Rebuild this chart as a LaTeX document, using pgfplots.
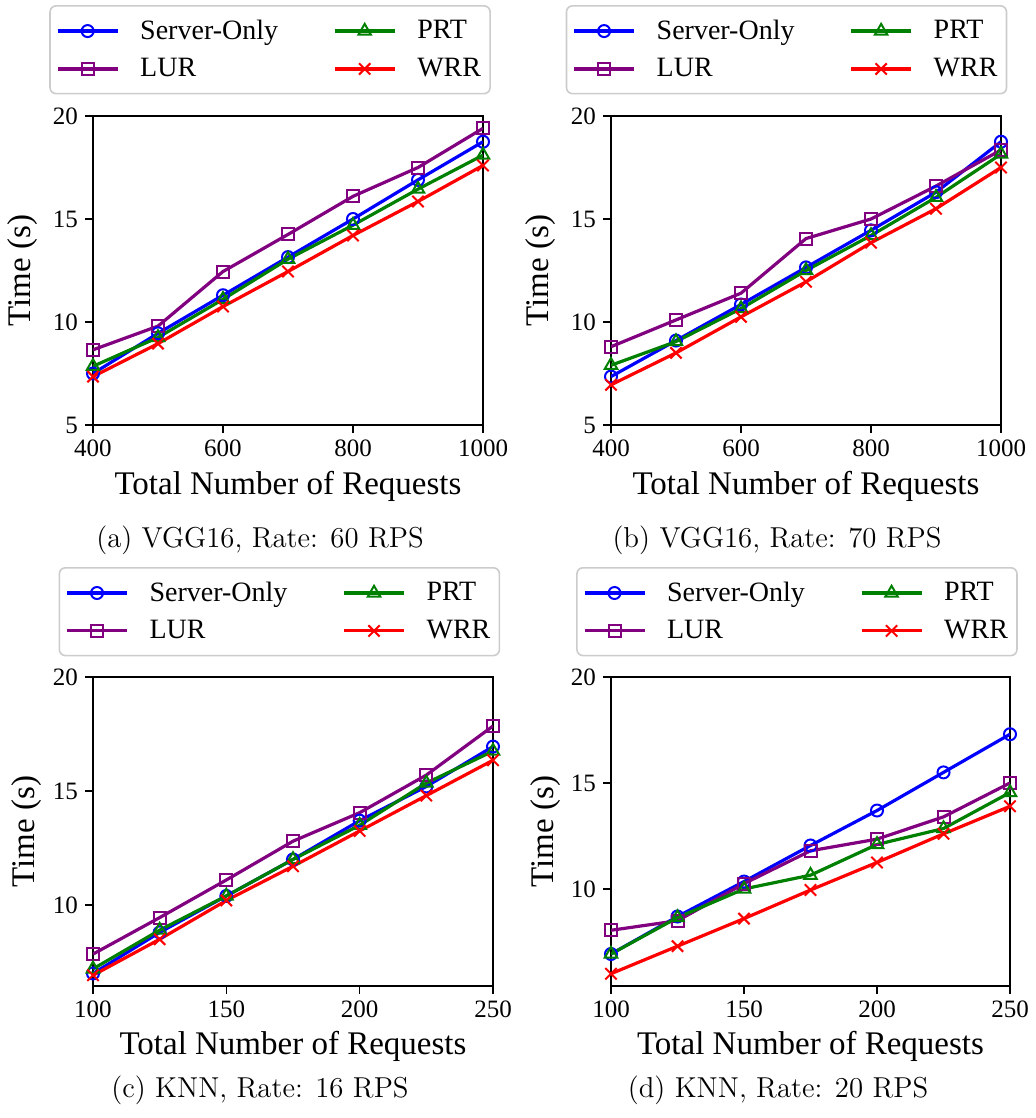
\documentclass[border=0pt]{standalone}
\usepackage{fontspec}
\setmainfont{Liberation Serif}
\usepackage{pgfplots}
\usepackage{pgfplotstable}
\pgfplotsset{compat=1.18}

\definecolor{mplpurple}{RGB}{128,0,128}
\definecolor{mplgreen}{RGB}{0,128,0}
\definecolor{legedge}{gray}{0.8}

\pgfplotstableread{
x    so    lur   prt   wrr
400  7.50  8.65  7.85  7.35
500  9.45  9.80  9.25  8.95
600  11.30 12.45 11.10 10.75
700  13.15 14.25 13.05 12.45
800  15.00 16.10 14.70 14.20
900  16.90 17.50 16.45 15.85
1000 18.75 19.40 18.10 17.60
}\tabA
\pgfplotstableread{
x    so    lur   prt   wrr
400  7.35  8.80  7.90  6.95
500  9.10  10.10 9.05  8.50
600  10.85 11.40 10.65 10.25
700  12.65 14.05 12.50 11.95
800  14.45 15.00 14.20 13.85
900  16.30 16.60 16.05 15.50
1000 18.75 18.35 18.15 17.50
}\tabB
\pgfplotstableread{
x    so    lur   prt   wrr
100  7.00  7.85  7.20  6.92
125  8.80  9.45  8.90  8.50
150  10.40 11.10 10.40 10.20
175  12.00 12.80 12.00 11.70
200  13.70 14.05 13.50 13.25
225  15.20 15.70 15.35 14.80
250  16.95 17.85 16.75 16.35
}\tabC
\pgfplotstableread{
x    so    lur   prt   wrr
100  6.93  8.05  6.93  6.00
125  8.70  8.50  8.65  7.30
150  10.35 10.25 10.00 8.60
175  12.05 11.80 10.65 9.95
200  13.70 12.35 12.10 11.25
225  15.50 13.40 12.85 12.60
250  17.30 15.00 14.55 13.90
}\tabD

\pgfplotsset{
  panel/.style={
    scale only axis, height=154.5pt,
    axis line style={line width=0.8pt},
    xtick pos=bottom, ytick pos=left, tick align=outside,
    major tick length=4pt, tick style={line width=0.8pt, black},
    /pgf/number format/assume math mode=true,
    /pgf/number format/1000 sep={},
    tick label style={font=\fontsize{12.5}{14}\selectfont},
    label style={font=\fontsize{16.5}{19}\selectfont},
    ylabel={Time (s)},
    xlabel={Total Number of Requests},
    legend columns=2,
    transpose legend,
    legend cell align=left,
    legend style={font=\fontsize{14}{16}\selectfont, draw=legedge,
      rounded corners=3pt, line width=0.8pt, fill=white,
      inner xsep=3pt, inner ysep=5.5pt, row sep=5pt,
      nodes={inner sep=1.5pt}},
    /tikz/every odd column/.style={column sep=9pt},
    /tikz/every even column/.style={column sep=26pt},
    legend image code/.code={\draw[sharp corners,mark repeat=2,mark phase=2,##1] plot coordinates {(0pt,0pt) (15pt,0pt) (30pt,0pt)};},
    every axis plot/.append style={line width=1.6pt, mark options={solid, sharp corners, line width=1pt}},
  },
  so/.style={blue, mark=o, mark size=3pt},
  lur/.style={mplpurple, mark=square, mark size=3pt},
  prt/.style={mplgreen, mark=triangle, mark size=3.6pt},
  wrr/.style={red, mark=x, mark size=4pt},
}

\begin{document}
\begin{tikzpicture}
\useasboundingbox (0,0) rectangle (517.5pt,-559pt);

% (a)
\begin{axis}[panel, at={(46.5pt,-58pt)}, anchor=north west, width=195pt,
  xmin=400, xmax=1000, ymin=5, ymax=20, xtick={400,600,800,1000}, ytick={5,10,15,20},
  ylabel style={at={(axis description cs:-0.18,0.5)}, anchor=center},
  xlabel style={at={(axis description cs:0.5,-0.2)}, anchor=center},
  legend style={at={(axis description cs:0.454,1.359)}, anchor=north}]
\addplot[so]  table[x=x,y=so]  {\tabA}; \addlegendentry{Server-Only}
\addplot[lur] table[x=x,y=lur] {\tabA}; \addlegendentry{LUR}
\addplot[prt] table[x=x,y=prt] {\tabA}; \addlegendentry{PRT}
\addplot[wrr] table[x=x,y=wrr] {\tabA}; \addlegendentry{WRR}
\end{axis}

% (b)
\begin{axis}[panel, at={(305.5pt,-58pt)}, anchor=north west, width=195pt,
  xmin=400, xmax=1000, ymin=5, ymax=20, xtick={400,600,800,1000}, ytick={5,10,15,20},
  ylabel style={at={(axis description cs:-0.18,0.5)}, anchor=center},
  xlabel style={at={(axis description cs:0.5,-0.2)}, anchor=center},
  legend style={at={(axis description cs:0.45,1.359)}, anchor=north}]
\addplot[so]  table[x=x,y=so]  {\tabB}; \addlegendentry{Server-Only}
\addplot[lur] table[x=x,y=lur] {\tabB}; \addlegendentry{LUR}
\addplot[prt] table[x=x,y=prt] {\tabB}; \addlegendentry{PRT}
\addplot[wrr] table[x=x,y=wrr] {\tabB}; \addlegendentry{WRR}
\end{axis}

% (c)
\begin{axis}[panel, at={(46.5pt,-338.5pt)}, anchor=north west, width=200pt,
  xmin=100, xmax=250, ymin=6.45, ymax=20, xtick={100,150,200,250}, ytick={10,15,20},
  ylabel style={at={(axis description cs:-0.165,0.5)}, anchor=center},
  xlabel style={at={(axis description cs:0.5,-0.197)}, anchor=center},
  legend style={at={(axis description cs:0.466,1.356)}, anchor=north}]
\addplot[so]  table[x=x,y=so]  {\tabC}; \addlegendentry{Server-Only}
\addplot[lur] table[x=x,y=lur] {\tabC}; \addlegendentry{LUR}
\addplot[prt] table[x=x,y=prt] {\tabC}; \addlegendentry{PRT}
\addplot[wrr] table[x=x,y=wrr] {\tabC}; \addlegendentry{WRR}
\end{axis}

% (d)
\begin{axis}[panel, at={(305.5pt,-338.5pt)}, anchor=north west, width=199.5pt,
  xmin=100, xmax=250, ymin=5.42, ymax=20, xtick={100,150,200,250}, ytick={10,15,20},
  ylabel style={at={(axis description cs:-0.165,0.5)}, anchor=center},
  xlabel style={at={(axis description cs:0.5,-0.197)}, anchor=center},
  legend style={at={(axis description cs:0.466,1.356)}, anchor=north}]
\addplot[so]  table[x=x,y=so]  {\tabD}; \addlegendentry{Server-Only}
\addplot[lur] table[x=x,y=lur] {\tabD}; \addlegendentry{LUR}
\addplot[prt] table[x=x,y=prt] {\tabD}; \addlegendentry{PRT}
\addplot[wrr] table[x=x,y=wrr] {\tabD}; \addlegendentry{WRR}
\end{axis}

\begin{scope}[every node/.style={font=\fontfamily{lmr}\fontsize{14.4}{17}\selectfont}]
\node at (130pt,-270pt) {(a) VGG16, Rate: 60 RPS};
\node at (388.5pt,-270pt) {(b) VGG16, Rate: 70 RPS};
\node at (130pt,-545pt) {(c) KNN, Rate: 16 RPS};
\node at (389pt,-545pt) {(d) KNN, Rate: 20 RPS};
\end{scope}
\end{tikzpicture}
\end{document}
